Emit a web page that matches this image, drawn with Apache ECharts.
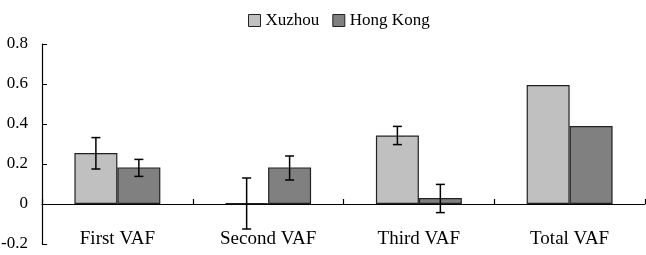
<!DOCTYPE html>
<html><head><meta charset="utf-8">
<script src="https://cdn.jsdelivr.net/npm/echarts@6/dist/echarts.min.js"></script>
<style>html,body{margin:0;padding:0;background:#fff}#c{width:646px;height:255px}</style>
</head><body><div id="c"></div>
<script>
const categories = ['First VAF', 'Second VAF', 'Third VAF', 'Total VAF'];
const seriesNames = ['Xuzhou', 'Hong Kong'];
const xuzhou = [0.255, 0.003, 0.342, 0.595];
const hongKong = [0.183, 0.183, 0.030, 0.390];
const xuzhouLow = [0.175, -0.125, 0.297, null];
const xuzhouHigh = [0.332, 0.130, 0.388, null];
const hongKongLow = [0.138, 0.120, -0.043, null];
const hongKongHigh = [0.223, 0.240, 0.098, null];
const yTicks = { min: -0.2, max: 0.8, interval: 0.2 };

const FONT = '"Liberation Serif", "Times New Roman", serif';
const GAP = 0.43;

function errSeries(low, high, side) {
  return {
    type: 'custom',
    z: 10,
    silent: true,
    data: categories.map((c, i) => low[i] == null ? null : [i, low[i], high[i]]).filter(d => d),
    renderItem: function (params, api) {
      const i = api.value(0);
      const band = api.size([1, 0])[0];
      const barW = band * (1 - GAP) / 2;
      const lo = api.coord([i, api.value(1)]);
      const hi = api.coord([i, api.value(2)]);
      const x = lo[0] + side * barW / 2;
      const cap = 4.5;
      const st = { stroke: '#000', lineWidth: 1.5 };
      return {
        type: 'group',
        children: [
          { type: 'line', shape: { x1: x, y1: lo[1], x2: x, y2: hi[1] }, style: st },
          { type: 'line', shape: { x1: x - cap, y1: lo[1], x2: x + cap, y2: lo[1] }, style: st },
          { type: 'line', shape: { x1: x - cap, y1: hi[1], x2: x + cap, y2: hi[1] }, style: st }
        ]
      };
    }
  };
}

const chart = echarts.init(document.getElementById('c'), null, { renderer: 'canvas' });
chart.setOption({
  animation: false,
  textStyle: { fontFamily: FONT },
  legend: {
    data: seriesNames,
    top: 7,
    left: 243,
    itemWidth: 12,
    itemHeight: 12,
    itemGap: 13,
    textStyle: { fontFamily: FONT, fontSize: 17, color: '#000' },
    itemStyle: { borderColor: '#222', borderWidth: 1 },
    icon: 'rect'
  },
  grid: { left: 42, right: 1, top: 44, bottom: 11, containLabel: false, outerBoundsMode: 'none' },
  xAxis: [{
    type: 'category',
    data: categories,
    axisLine: { onZero: true, lineStyle: { color: '#000', width: 1.2 } },
    axisTick: { show: true, inside: true, length: 5, lineStyle: { color: '#000', width: 1.2 } },
    axisLabel: { show: false },
    splitLine: { show: false }
  }, {
    type: 'category',
    data: categories,
    position: 'bottom',
    axisLine: { show: false, onZero: false },
    axisTick: { show: false },
    axisLabel: { margin: -14, fontFamily: FONT, fontSize: 19, color: '#000' },
    splitLine: { show: false }
  }],
  yAxis: {
    type: 'value',
    min: yTicks.min, max: yTicks.max, interval: yTicks.interval,
    axisLine: { show: true, onZero: false, lineStyle: { color: '#000', width: 1.2 } },
    axisTick: { show: true, inside: true, length: 5, lineStyle: { color: '#000' } },
    axisLabel: { margin: 14, fontFamily: FONT, fontSize: 17, color: '#000' },
    splitLine: { show: false }
  },
  series: [
    { name: seriesNames[0], type: 'bar', data: xuzhou, barGap: '0%', barCategoryGap: (GAP * 100) + '%',
      itemStyle: { color: '#c0c0c0', borderColor: '#222', borderWidth: 1.2 } },
    { name: seriesNames[1], type: 'bar', data: hongKong,
      itemStyle: { color: '#808080', borderColor: '#222', borderWidth: 1.2 } },
    errSeries(xuzhouLow, xuzhouHigh, -1),
    errSeries(hongKongLow, hongKongHigh, 1)
  ]
});
</script></body></html>
